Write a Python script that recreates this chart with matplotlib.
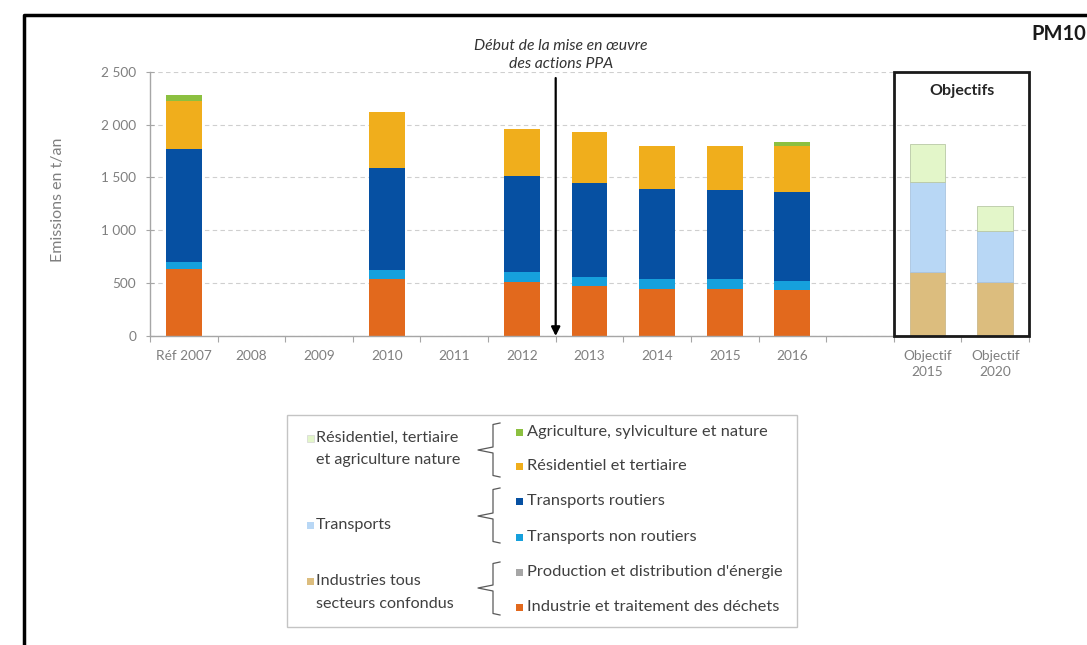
import matplotlib
matplotlib.use("Agg")
import numpy as np
import matplotlib.pyplot as plt
from matplotlib.patches import Rectangle
from matplotlib.lines import Line2D
from matplotlib.ticker import FuncFormatter

plt.rcParams["font.family"] = ["Lato", "DejaVu Sans"]

# ---- data (t/an) ----
categories = ["Réf 2007", "2008", "2009", "2010", "2011", "2012", "2013",
              "2014", "2015", "2016", "", "Objectif\n2015", "Objectif\n2020"]

industrie_dechets = [631, None, None, 536, None, 514, 473, 448, 448, 435, None, None, None]
production_energie = [0, None, None, 0, None, 0, 0, 0, 0, 0, None, None, None]
transports_non_routiers = [72, None, None, 88, None, 88, 88, 88, 88, 88, None, None, None]
transports_routiers = [1063, None, None, 968, None, 914, 883, 854, 845, 842, None, None, None]
residentiel_tertiaire = [457, None, None, 530, None, 442, 482, 407, 419, 432, None, None, None]
agriculture_nature = [57, None, None, 0, None, 0, 0, 0, 0, 41, None, None, None]

obj_industries = [None] * 11 + [609, 507]
obj_transports = [None] * 11 + [851, 489]
obj_residentiel_agri = [None] * 11 + [353, 237]

y_ticks = [0, 500, 1000, 1500, 2000, 2500]

# ---- colours ----
C_AGRI = "#8cc040"
C_RES = "#f0ae1c"
C_ROUT = "#0650a2"
C_NONROUT = "#16a0dc"
C_ENER = "#a6a6a6"
C_IND = "#e2691d"
C_OBJ_RES = "#e3f6c9"
C_OBJ_TRA = "#b8d7f5"
C_OBJ_IND = "#dcbd7e"
GREY_TXT = "#7f7f7f"
GREY_AX = "#a6a6a6"

W, H = 1087, 645
fig = plt.figure(figsize=(W / 100, H / 100), dpi=100)

def px_box(x0, y0, x1, y1):
    return [x0 / W, 1 - y1 / H, (x1 - x0) / W, (y1 - y0) / H]

ax = fig.add_axes(px_box(150, 71.7, 1029, 336))

x = np.arange(len(categories))

def arr(v):
    return np.array([np.nan if e is None else e for e in v], dtype=float)

bottom = np.zeros(len(categories))
bar_w = 0.53

def stack(values, color, edge=None):
    vals = arr(values)
    m = ~np.isnan(vals)
    ax.bar(x[m], vals[m], bottom=bottom[m], width=bar_w, color=color,
           edgecolor=edge if edge else "none", linewidth=0.6 if edge else 0,
           zorder=2)
    bottom[m] += vals[m]

stack(industrie_dechets, C_IND)
stack(production_energie, C_ENER)
stack(transports_non_routiers, C_NONROUT)
stack(transports_routiers, C_ROUT)
stack(residentiel_tertiaire, C_RES)
stack(agriculture_nature, C_AGRI)

stack(obj_industries, C_OBJ_IND, "#cbb88a")
stack(obj_transports, C_OBJ_TRA, "#a9c4df")
stack(obj_residentiel_agri, C_OBJ_RES, "#b9c8a5")

# ---- axes styling ----
ax.set_xlim(-0.5, len(categories) - 0.5)
ax.set_ylim(0, 2500)
ax.set_yticks(y_ticks)
ax.yaxis.set_major_formatter(FuncFormatter(lambda v, p: f"{int(v):,}".replace(",", " ")))
ax.set_xticks(x)
ax.set_xticklabels(categories, linespacing=1.45)
ax.set_xticks(np.arange(-0.5, len(categories), 1), minor=True)
ax.tick_params(axis="x", which="major", length=0, pad=10, labelsize=9.8, labelcolor=GREY_TXT)
ax.tick_params(axis="x", which="minor", length=4, direction="out", color=GREY_AX, width=0.8)
ax.tick_params(axis="y", length=6, direction="inout", color=GREY_AX, width=0.8,
               pad=7, labelsize=9.8, labelcolor=GREY_TXT)
for s in ("top", "right"):
    ax.spines[s].set_visible(False)
for s in ("left", "bottom"):
    ax.spines[s].set_color(GREY_AX)
    ax.spines[s].set_linewidth(1.0)
ax.yaxis.grid(True, linestyle=(0, (4, 3)), color="#cfcfcf", linewidth=0.8)
ax.set_axisbelow(True)
ax.patch.set_alpha(0)

# start of the PPA actions
ax.annotate("", xy=(5.5, 0), xytext=(5.5, 2440),
            arrowprops=dict(arrowstyle="-|>", color="black", lw=1.6,
                            mutation_scale=13, shrinkA=0, shrinkB=0),
            annotation_clip=False, zorder=5)

# objectives frame
ax.add_patch(Rectangle((10.5, 0), 2.0, 2500, fill=False, edgecolor="#1a1a1a",
                       linewidth=2.0, clip_on=False, zorder=4))

# ---- overlay in pixel coordinates ----
ov = fig.add_axes([0, 0, 1, 1], zorder=10)
ov.set_xlim(0, W)
ov.set_ylim(H, 0)
ov.axis("off")
ov.patch.set_alpha(0)

# outer frame (left and top edges)
ov.add_line(Line2D([24, 24, W + 5], [H + 5, 15, 15], color="black", linewidth=2.5))

ov.text(1086, 34, "PM10", ha="right", va="center", fontsize=14.5,
        fontweight="bold", color="#1a1a1a")
ov.text(961.5, 91, "Objectifs", ha="center", va="center", fontsize=11.5,
        fontweight="bold", color="#262626")
ov.text(561, 55, "Début de la mise en œuvre\ndes actions PPA", ha="center",
        va="center", fontsize=11.3, style="italic", color="#333333", linespacing=1.3)
ov.text(58, 200, "Emissions en t/an", ha="center", va="center", rotation=90,
        fontsize=11.5, color=GREY_TXT)

# ---- sector legend ----
ov.add_patch(Rectangle((287, 415), 510, 212, fill=False, edgecolor="#c4c4c4", linewidth=1.0))

def square(xc, yc, color):
    ov.add_patch(Rectangle((xc - 3.5, yc - 3.5), 7, 7, facecolor=color,
                           edgecolor="#d6d6d6" if color == C_OBJ_RES else "none",
                           linewidth=0.5))

group_items = [
    (["Résidentiel, tertiaire", "et agriculture nature"], C_OBJ_RES, [438, 460]),
    (["Transports"], C_OBJ_TRA, [525]),
    (["Industries tous", "secteurs confondus"], C_OBJ_IND, [581, 604]),
]
for lines, col, ys in group_items:
    square(310, ys[0], col)
    for t, yy in zip(lines, ys):
        ov.text(316, yy, t, ha="left", va="center", fontsize=11.6, color="#404040")

sector_items = [
    ("Agriculture, sylviculture et nature", C_AGRI, 432),
    ("Résidentiel et tertiaire", C_RES, 466),
    ("Transports routiers", C_ROUT, 501),
    ("Transports non routiers", C_NONROUT, 537),
    ("Production et distribution d'énergie", C_ENER, 572),
    ("Industrie et traitement des déchets", C_IND, 607),
]
for t, col, yy in sector_items:
    square(519, yy, col)
    ov.text(527, yy, t, ha="left", va="center", fontsize=11.8, color="#404040")

def brace(y0, y1, ym):
    xs = [500, 493, 493, 478, 493, 493, 500]
    ys = [y0, y0 + 1.5, ym - 3, ym, ym + 3, y1 - 1.5, y1]
    ov.add_line(Line2D(xs, ys, color="#595959", linewidth=0.9))

brace(423, 477, 450)
brace(488, 543, 516)
brace(562, 615, 588)

fig.savefig("out.png", dpi=100)
